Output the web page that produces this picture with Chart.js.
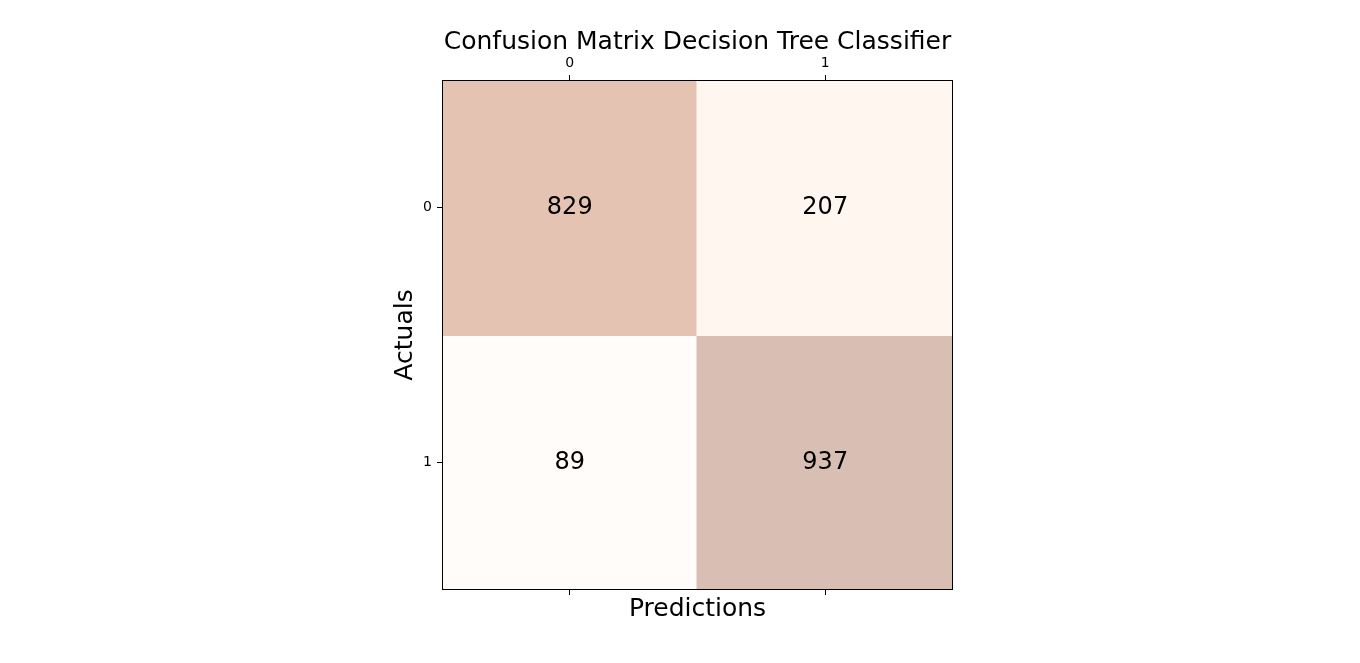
<!DOCTYPE html>
<html>
<head>
<meta charset="utf-8">
<title>Confusion Matrix Decision Tree Classifier</title>
<script src="https://cdn.jsdelivr.net/npm/chart.js@4.4.1/dist/chart.umd.min.js"></script>
<style>
  html, body { margin: 0; padding: 0; background: #fff; }
  #wrap { width: 1360px; height: 663px; }
</style>
</head>
<body>
<div id="wrap"><canvas id="cm"></canvas></div>
<script>
// confusion matrix values: rows = actuals, columns = predictions
const predictedLabels = ["0", "1"];
const actualLabels = ["0", "1"];
const row0 = [829, 207];
const row1 = [89, 937];
const matrixRows = [row0, row1];

const FONT = "'DejaVu Sans', sans-serif";

// matplotlib "Oranges" stops, drawn with alpha 0.3 over white
const ORANGES = ["#fff5eb", "#fee6ce", "#fdd0a2", "#fdae6b", "#fd8d3c", "#f16913", "#d94801", "#a63603", "#7f2704"];

function hexToRgb(h) {
    return [parseInt(h.slice(1, 3), 16), parseInt(h.slice(3, 5), 16), parseInt(h.slice(5, 7), 16)];
}

function cellColor(v, lo, hi) {
    const t = (v - lo) / (hi - lo) * (ORANGES.length - 1);
    const i = Math.min(Math.floor(t), ORANGES.length - 2);
    const f = t - i;
    const a = hexToRgb(ORANGES[i]), b = hexToRgb(ORANGES[i + 1]);
    const c = a.map((x, k) => x + (b[k] - x) * f);
    // alpha 0.3 blended on white
    const m = c.map(x => Math.round(0.3 * x + 0.7 * 255));
    return `rgb(${m[0]}, ${m[1]}, ${m[2]})`;
}

const allValues = matrixRows.flat();
const vMin = Math.min(...allValues);
const vMax = Math.max(...allValues);

// one floating bar dataset per actual row
const datasets = matrixRows.map((row, r) => ({
    label: "Actual " + actualLabels[r],
    data: row.map(() => [r - 0.5, r + 0.5]),
    counts: row,
    backgroundColor: row.map(v => cellColor(v, vMin, vMax)),
    borderWidth: 0,
    inflateAmount: 1,
    barPercentage: 1,
    categoryPercentage: 1,
    grouped: false
}));

// draws the counts in the middle of each cell and the frame around the plot
const cellTextPlugin = {
    id: "cellText",
    afterDatasetsDraw(chart) {
        const { ctx, scales } = chart;
        ctx.save();
        ctx.font = "24px " + FONT;
        ctx.fillStyle = "#000";
        ctx.textAlign = "center";
        ctx.textBaseline = "middle";
        chart.data.datasets.forEach((ds, r) => {
            ds.counts.forEach((v, c) => {
                const x = scales.x.getPixelForValue(c);
                const y = scales.y.getPixelForValue(r);
                ctx.fillText(String(v), x, y);
            });
        });
        const a = chart.chartArea;
        ctx.strokeStyle = "#000";
        ctx.lineWidth = 1;
        ctx.strokeRect(a.left + 0.5, a.top + 0.5, a.right - a.left - 1, a.bottom - a.top - 1);
        ctx.restore();
    }
};

const tickGrid = { drawOnChartArea: false, offset: false, tickLength: 5, color: "#000", tickWidth: 1 };

new Chart(document.getElementById("cm"), {
    type: "bar",
    data: { labels: predictedLabels, datasets: datasets },
    plugins: [cellTextPlugin],
    options: {
        responsive: true,
        maintainAspectRatio: false,
        animation: false,
        layout: { padding: { left: 386, right: 407, top: 0, bottom: 35 } },
        plugins: {
            legend: { display: false },
            tooltip: { enabled: false },
            title: {
                display: true,
                fullSize: false,
                text: "Confusion Matrix Decision Tree Classifier",
                color: "#000",
                font: { family: FONT, size: 25, weight: "normal", lineHeight: 1.2 },
                padding: { top: 27, bottom: 0 }
            }
        },
        scales: {
            x: {
                type: "category",
                position: "top",
                offset: true,
                grid: tickGrid,
                border: { display: false },
                ticks: { color: "#000", padding: 3, font: { family: FONT, size: 14 }, maxRotation: 0 },
                afterFit(s) { s.height = 23; }
            },
            x2: {
                type: "category",
                position: "bottom",
                offset: true,
                grid: tickGrid,
                border: { display: false },
                ticks: { callback: () => "", font: { family: FONT, size: 14 } },
                title: {
                    display: true,
                    text: "Predictions",
                    color: "#000",
                    font: { family: FONT, size: 25, lineHeight: 1.2 },
                    padding: { top: 4, bottom: 4 }
                },
                afterFit(s) { s.height = 38; }
            },
            y: {
                type: "linear",
                min: -0.5,
                max: 1.5,
                reverse: true,
                grid: tickGrid,
                border: { display: false },
                afterBuildTicks(s) { s.ticks = actualLabels.map((_, i) => ({ value: i })); },
                ticks: {
                    color: "#000",
                    padding: 5,
                    font: { family: FONT, size: 14 },
                    callback: v => actualLabels[v]
                },
                title: {
                    display: true,
                    text: "Actuals",
                    color: "#000",
                    font: { family: FONT, size: 25, lineHeight: 1.2 },
                    padding: { top: 4, bottom: 4 }
                },
                afterFit(s) { s.width = 56; }
            }
        }
    }
});
</script>
</body>
</html>
